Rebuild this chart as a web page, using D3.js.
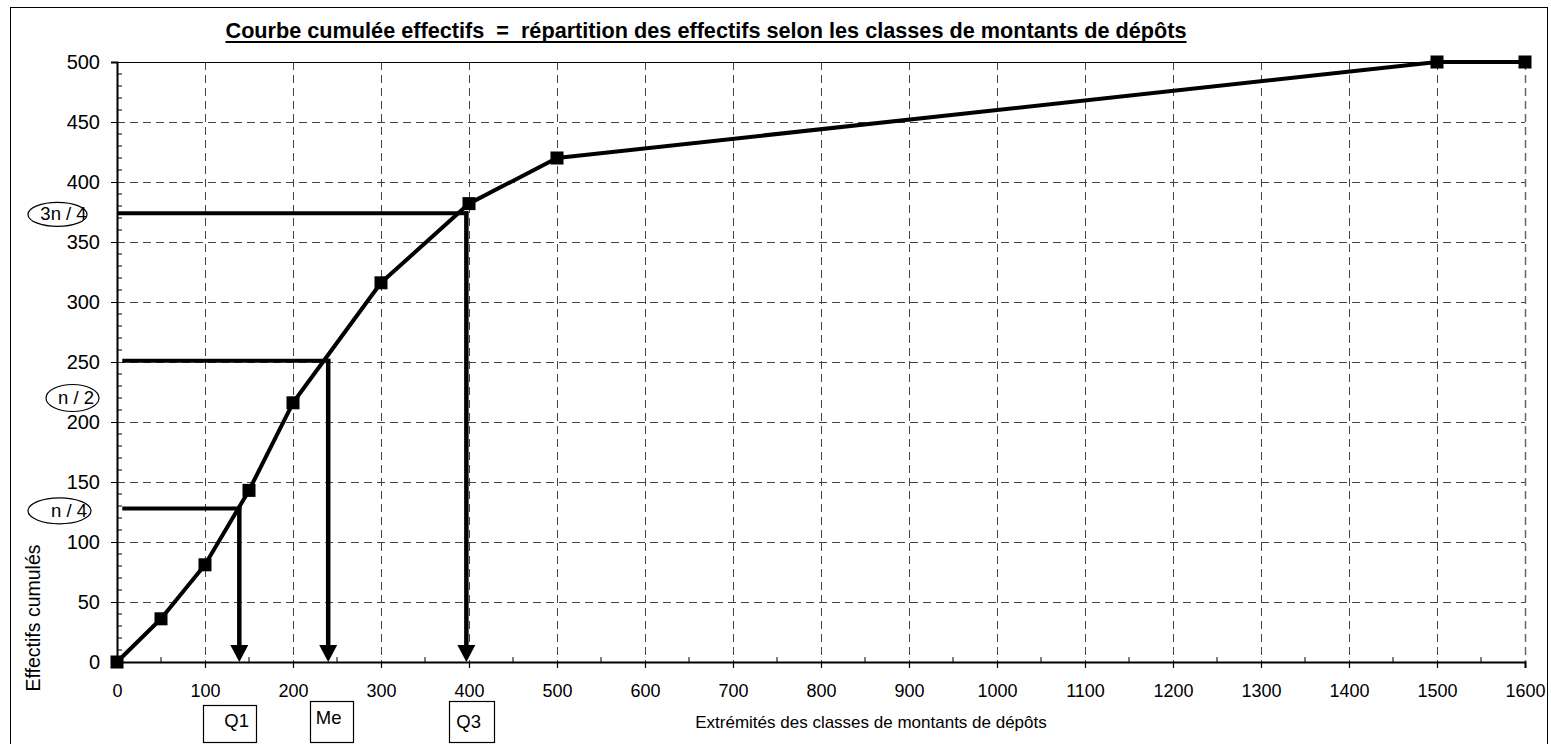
<!DOCTYPE html>
<html>
<head>
<meta charset="utf-8">
<script src="https://cdn.jsdelivr.net/npm/d3@7"></script>
<style>
  html, body { margin: 0; padding: 0; background: #fff; }
  svg { display: block; font-family: "Liberation Sans", Arial, sans-serif; }
</style>
</head>
<body>
<svg id="chart" width="1551" height="744"></svg>
<script>
// ---- data ----
const classBounds = [0, 50, 100, 150, 200, 300, 400, 500, 1500, 1600];
const cumCounts   = [0, 36, 81, 143, 216, 316, 382, 420, 500, 500];
const xTicks = [0, 100, 200, 300, 400, 500, 600, 700, 800, 900, 1000, 1100, 1200, 1300, 1400, 1500, 1600];
const yTicks = [0, 50, 100, 150, 200, 250, 300, 350, 400, 450, 500];
const quartileNames  = ["n / 4", "n / 2", "3n / 4"];
const quartileLevels = [128, 251, 374];
const quartileValues = [139, 240, 397];
const quartileLabelAnchors = [126, 220, 373];
const quartileBoxes = ["Q1", "Me", "Q3"];
const quartileBoxAnchors = [128, 244, 403];
const titleText = "Courbe cumulée effectifs  =  répartition des effectifs selon les classes de montants de dépôts";
const xTitle = "Extrémités des classes de montants de dépôts";
const yTitle = "Effectifs cumulés";

// ---- layout ----
const W = 1551, H = 744;
const svg = d3.select("#chart");
const x = d3.scaleLinear().domain([0, 1600]).range([117, 1525]);
const y = d3.scaleLinear().domain([0, 500]).range([662, 62]);
const font = '"Liberation Sans", Arial, sans-serif';

// outer frame
svg.append("rect").attr("x", 10.5).attr("y", 7.5).attr("width", 1537).attr("height", 745)
  .attr("fill", "none").attr("stroke", "#000").attr("stroke-width", 1);

// gridlines
const grid = svg.append("g");
grid.selectAll(".vg").data(xTicks.filter(d => d > 0)).join("line")
  .attr("x1", d => Math.round(x(d)) + 0.5).attr("x2", d => Math.round(x(d)) + 0.5)
  .attr("y1", y(500)).attr("y2", y(0))
  .attr("stroke", d => d === 1600 ? "#666" : "#444").attr("stroke-width", d => d === 1600 ? 1.5 : 1)
  .attr("stroke-dasharray", "8,5");
grid.selectAll(".hg").data(yTicks.filter(d => d > 0 && d < 500)).join("line")
  .attr("x1", x(0)).attr("x2", x(1600))
  .attr("y1", d => Math.round(y(d)) + 0.5).attr("y2", d => Math.round(y(d)) + 0.5)
  .attr("stroke", "#444").attr("stroke-width", 1).attr("stroke-dasharray", "8,5");
grid.append("line").attr("x1", x(0)).attr("x2", x(1600))
  .attr("y1", Math.round(y(500)) + 0.5).attr("y2", Math.round(y(500)) + 0.5)
  .attr("stroke", "#000").attr("stroke-width", 1);

// axes
const xAxis = d3.axisBottom(x).tickValues(xTicks).tickSize(6).tickPadding(16).tickFormat(d3.format("d"));
const gx = svg.append("g").attr("transform", `translate(0,${y(0)})`).call(xAxis);
gx.select(".domain").attr("stroke-width", 2);
gx.selectAll(".tick line").attr("stroke-width", 1.2);
gx.selectAll(".tick text").attr("font-family", font).attr("font-size", 18).attr("fill", "#000");
// minor x ticks (inside)
svg.append("g").selectAll("line").data(d3.range(50, 1600, 100)).join("line")
  .attr("x1", d => x(d)).attr("x2", d => x(d)).attr("y1", y(0)).attr("y2", y(0) - 5)
  .attr("stroke", "#000").attr("stroke-width", 1);

const yAxis = d3.axisLeft(y).tickValues(yTicks).tickSize(6).tickPadding(11).tickFormat(d3.format("d"));
const gy = svg.append("g").attr("transform", `translate(${x(0)},0)`).call(yAxis);
gy.select(".domain").attr("stroke-width", 2);
gy.selectAll(".tick text").attr("font-family", font).attr("font-size", 20).attr("fill", "#000");
// minor y ticks (inside)
svg.append("g").selectAll("line").data(d3.range(10, 500, 10).filter(d => d % 50 !== 0)).join("line")
  .attr("x1", x(0)).attr("x2", x(0) + 5).attr("y1", d => y(d)).attr("y2", d => y(d))
  .attr("stroke", "#000").attr("stroke-width", 1);

// data line
const pts = classBounds.map((b, i) => [b, cumCounts[i]]);
svg.append("path").datum(pts)
  .attr("d", d3.line().x(d => x(d[0])).y(d => y(d[1])))
  .attr("fill", "none").attr("stroke", "#000").attr("stroke-width", 4).attr("stroke-linejoin", "round");
svg.append("g").selectAll("rect").data(pts).join("rect")
  .attr("x", d => x(d[0]) - 6.5).attr("y", d => y(d[1]) - 6.5)
  .attr("width", 13).attr("height", 13).attr("fill", "#000");

// quartile construction lines
const qStartX = [6, 6, 0];
const qg = svg.append("g");
quartileLevels.forEach((lv, i) => {
  const xv = x(quartileValues[i]);
  const yv = y(lv);
  qg.append("line").attr("x1", x(qStartX[i])).attr("x2", xv + 2).attr("y1", yv).attr("y2", yv)
    .attr("stroke", "#000").attr("stroke-width", 4);
  qg.append("line").attr("x1", xv).attr("x2", xv).attr("y1", yv - 2).attr("y2", y(0) - 14)
    .attr("stroke", "#000").attr("stroke-width", 4.5);
  qg.append("path")
    .attr("d", `M${xv - 9},${y(0) - 17} L${xv + 9},${y(0) - 17} L${xv},${y(0)} Z`)
    .attr("fill", "#000");
});

// ellipse labels on the left
const ellRx = [31.5, 26.5, 29.5], ellRy = [13, 13.5, 12];
const ellCx = [59.5, 72.5, 57.5];
const ellTx = [69, 76, 63.5];
quartileNames.forEach((nm, i) => {
  const cy = y(quartileLabelAnchors[i]);
  svg.append("ellipse").attr("cx", ellCx[i]).attr("cy", cy).attr("rx", ellRx[i]).attr("ry", ellRy[i])
    .attr("fill", "#fff").attr("stroke", "#000").attr("stroke-width", 1.2);
  svg.append("text").attr("x", ellTx[i]).attr("y", cy + 6).attr("text-anchor", "middle")
    .attr("font-family", font).attr("font-size", 18.5).text(nm);
});

// boxes under the axis
const boxW = [53, 43, 45];
const boxTop = [705, 701, 701];
const txtDx = [7, -3, -3];
const txtY = [727, 724, 728];
quartileBoxes.forEach((nm, i) => {
  const cx = x(quartileBoxAnchors[i]);
  svg.append("rect").attr("x", Math.round(cx - boxW[i] / 2) + 0.5).attr("y", boxTop[i] + 0.5)
    .attr("width", boxW[i]).attr("height", 744 - boxTop[i] - 2)
    .attr("fill", "#fff").attr("stroke", "#000").attr("stroke-width", 1.2);
  svg.append("text").attr("x", cx + txtDx[i]).attr("y", txtY[i]).attr("text-anchor", "middle")
    .attr("font-family", font).attr("font-size", 18.5).text(nm);
});

// titles
const t = svg.append("text").attr("x", 706).attr("y", 38).attr("text-anchor", "middle")
  .attr("xml:space", "preserve").style("white-space", "pre")
  .attr("font-family", font).attr("font-weight", "bold").attr("font-size", 20).text(titleText);
const tw = t.node().getComputedTextLength();
const tfs = 20 * 962 / tw;
t.attr("font-size", tfs);
const tw2 = t.node().getComputedTextLength();
svg.append("line").attr("x1", 706 - tw2 / 2).attr("x2", 706 + tw2 / 2).attr("y1", 42).attr("y2", 42)
  .attr("stroke", "#000").attr("stroke-width", 2);

svg.append("text").attr("x", 871).attr("y", 728).attr("text-anchor", "middle")
  .attr("font-family", font).attr("font-size", 17).text(xTitle);
svg.append("text").attr("transform", "translate(40,618) rotate(-90)").attr("text-anchor", "middle")
  .attr("font-family", font).attr("font-size", 19.5).text(yTitle);
</script>
</body>
</html>
